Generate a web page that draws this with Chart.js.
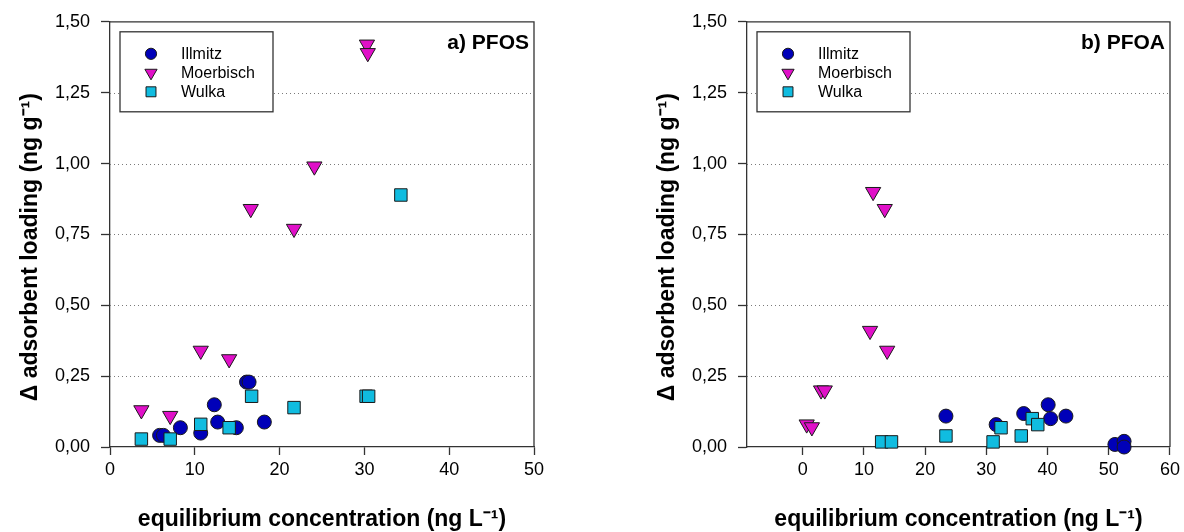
<!DOCTYPE html>
<html>
<head>
<meta charset="utf-8">
<script src="https://cdn.jsdelivr.net/npm/chart.js@4/dist/chart.umd.min.js"></script>
<style>
  html, body { margin: 0; padding: 0; background: #fff; }
  #wrap { position: relative; width: 1184px; height: 532px; overflow: hidden; }
  .panel { position: absolute; top: 0; }
</style>
</head>
<body>
<div id="wrap">
  <div class="panel" style="left:0px"><canvas id="chartPfos" width="560" height="532"></canvas></div>
  <div class="panel" style="left:637px"><canvas id="chartPfoa" width="547" height="532"></canvas></div>
</div>
<script>
  // data (x = ng/L, y = ng/g)
  const pfosIllmitzX = [5.85, 6.3, 8.3, 10.7, 12.3, 12.7, 14.9, 16.1, 16.4, 18.2];
  const pfosIllmitzY = [0.041, 0.041, 0.068, 0.049, 0.149, 0.088, 0.068, 0.229, 0.229, 0.088];
  const pfosMoerbischX = [3.7, 7.1, 10.7, 14.05, 16.6, 21.7, 24.1, 30.3, 30.4];
  const pfosMoerbischY = [0.13, 0.11, 0.34, 0.31, 0.84, 0.77, 0.99, 1.42, 1.39];
  const pfosWulkaX = [3.7, 7.1, 10.7, 14.05, 16.7, 21.7, 30.2, 30.5, 34.3];
  const pfosWulkaY = [0.028, 0.028, 0.08, 0.068, 0.179, 0.139, 0.179, 0.179, 0.889];

  const pfoaIllmitzX = [23.4, 31.6, 36.1, 40.1, 40.5, 43.0, 51.0, 52.5, 52.5];
  const pfoaIllmitzY = [0.109, 0.079, 0.118, 0.149, 0.100, 0.109, 0.009, 0.02, 0.0];
  const pfoaMoerbischX = [0.65, 1.5, 3.0, 3.6, 11.0, 11.5, 13.4, 13.8];
  const pfoaMoerbischY = [0.08, 0.07, 0.2, 0.2, 0.41, 0.9, 0.84, 0.34];
  const pfoaWulkaX = [12.9, 14.5, 23.4, 31.1, 32.4, 35.7, 37.5, 38.4];
  const pfoaWulkaY = [0.018, 0.018, 0.039, 0.018, 0.068, 0.039, 0.100, 0.079];

  const seriesNames = ['Illmitz', 'Moerbisch', 'Wulka'];
  const yTicks = [0, 0.25, 0.5, 0.75, 1.0, 1.25, 1.5];
  const pfosXTicks = [0, 10, 20, 30, 40, 50];
  const pfoaXTicks = [0, 10, 20, 30, 40, 50, 60];

  const FONT = '"Liberation Sans", Arial, Helvetica, sans-serif';
  Chart.defaults.font.family = FONT;
  Chart.defaults.color = '#000';

  const styles = [
    { pointStyle: 'circle', pointRadius: 7, pointRotation: 0, backgroundColor: '#0000b8', order: 2 },
    { pointStyle: 'triangle', pointRadius: 8.8, pointRotation: 180, backgroundColor: '#e010c8', order: 1 },
    { pointStyle: 'rect', pointRadius: 8.8, pointRotation: 0, backgroundColor: '#10bce0', order: 0 }
  ];

  function pairs(xs, ys) {
    return xs.map((x, i) => ({ x: x, y: ys[i] }));
  }

  function makeDatasets(list) {
    return list.map((d, i) => ({
      label: seriesNames[i],
      data: pairs(d[0], d[1]),
      pointStyle: styles[i].pointStyle,
      pointRadius: styles[i].pointRadius,
      pointHoverRadius: styles[i].pointRadius,
      pointRotation: styles[i].pointRotation,
      backgroundColor: styles[i].backgroundColor,
      borderColor: '#1a1a1a',
      borderWidth: 1,
      order: styles[i].order,
      clip: false
    }));
  }

  // frame, dotted grid, legend box and panel label
  const decor = {
    id: 'decor',
    beforeDatasetsDraw(chart) {
      const { ctx, chartArea: a, scales } = chart;
      ctx.save();
      ctx.strokeStyle = '#7a7a7a';
      ctx.lineWidth = 1;
      ctx.setLineDash([1, 3]);
      yTicks.forEach(v => {
        if (v <= 0 || v >= 1.5) return;
        const y = Math.round(scales.y.getPixelForValue(v)) + 0.5;
        ctx.beginPath();
        ctx.moveTo(a.left, y);
        ctx.lineTo(a.right, y);
        ctx.stroke();
      });
      ctx.setLineDash([]);
      ctx.strokeStyle = '#333';
      ctx.lineWidth = 1.3;
      ctx.beginPath();
      ctx.moveTo(a.left, a.top);
      ctx.lineTo(a.right, a.top);
      ctx.lineTo(a.right, a.bottom);
      ctx.stroke();
      ctx.restore();
    },
    afterDraw(chart, args, opts) {
      const { ctx, chartArea: a } = chart;
      ctx.save();
      // legend
      const bx = a.left + 10, by = a.top + 10, bw = 153, bh = 80;
      ctx.fillStyle = '#fff';
      ctx.fillRect(bx, by, bw, bh);
      ctx.strokeStyle = '#333';
      ctx.lineWidth = 1.3;
      ctx.strokeRect(bx, by, bw, bh);
      ctx.font = '16px ' + FONT;
      ctx.textBaseline = 'middle';
      chart.data.datasets.forEach((ds, i) => {
        const cy = by + 22 + i * 19;
        ctx.fillStyle = ds.backgroundColor;
        ctx.strokeStyle = '#1a1a1a';
        ctx.lineWidth = 1;
        Chart.helpers.drawPoint(ctx, {
          pointStyle: ds.pointStyle,
          rotation: ds.pointRotation,
          radius: ds.pointRadius * 0.8,
          borderWidth: 1
        }, bx + 31, cy);
        ctx.fillStyle = '#000';
        ctx.fillText(ds.label, bx + 61, cy + 1);
      });
      // panel label
      ctx.font = 'bold 21px ' + FONT;
      ctx.textAlign = 'right';
      ctx.fillStyle = '#000';
      ctx.fillText(opts.label, a.right - 5, a.top + 21);
      ctx.restore();
    }
  };

  function makeChart(id, datasets, label, xMin, xMax, xTicks, padRight) {
    return new Chart(document.getElementById(id), {
      type: 'scatter',
      data: { datasets: datasets },
      plugins: [decor],
      options: {
        responsive: false,
        animation: false,
        layout: { padding: { left: 0, right: padRight, top: 21, bottom: 0 } },
        plugins: {
          legend: { display: false },
          tooltip: { enabled: false },
          decor: { label: label }
        },
        scales: {
          x: {
            type: 'linear',
            min: xMin,
            max: xMax,
            afterBuildTicks: s => { s.ticks = xTicks.map(v => ({ value: v })); },
            afterFit: s => { s.height = 85; },
            ticks: { padding: 4, font: { size: 18 }, color: '#000', maxRotation: 0, autoSkip: false },
            grid: { drawOnChartArea: false, drawTicks: true, tickLength: 8, tickColor: '#333', tickWidth: 1.3 },
            border: { display: true, color: '#333', width: 1.3 },
            title: {
              display: true,
              text: 'equilibrium concentration (ng L\u207B\u00B9)',
              font: { size: 23, weight: 'bold' },
              color: '#000',
              padding: { top: 0, bottom: -1 }
            }
          },
          y: {
            type: 'linear',
            min: 0,
            max: 1.5,
            afterBuildTicks: s => { s.ticks = yTicks.map(v => ({ value: v })); },
            afterFit: s => { s.width = 110; },
            ticks: {
              padding: 11,
              font: { size: 18 },
              color: '#000',
              autoSkip: false,
              callback: v => v.toFixed(2).replace('.', ',')
            },
            grid: { drawOnChartArea: false, drawTicks: true, tickLength: 9, tickColor: '#333', tickWidth: 1.3 },
            border: { display: true, color: '#333', width: 1.3 },
            title: {
              display: true,
              text: '\u0394 adsorbent loading (ng g\u207B\u00B9)    ',
              font: { size: 23, weight: 'bold' },
              color: '#000',
              padding: { top: 17, bottom: 0 }
            }
          }
        }
      }
    });
  }

  makeChart('chartPfos', makeDatasets([
    [pfosIllmitzX, pfosIllmitzY],
    [pfosMoerbischX, pfosMoerbischY],
    [pfosWulkaX, pfosWulkaY]
  ]), 'a) PFOS', 0, 50, pfosXTicks, 26);

  makeChart('chartPfoa', makeDatasets([
    [pfoaIllmitzX, pfoaIllmitzY],
    [pfoaMoerbischX, pfoaMoerbischY],
    [pfoaWulkaX, pfoaWulkaY]
  ]), 'b) PFOA', -9.1, 60, pfoaXTicks, 12);
</script>
</body>
</html>
